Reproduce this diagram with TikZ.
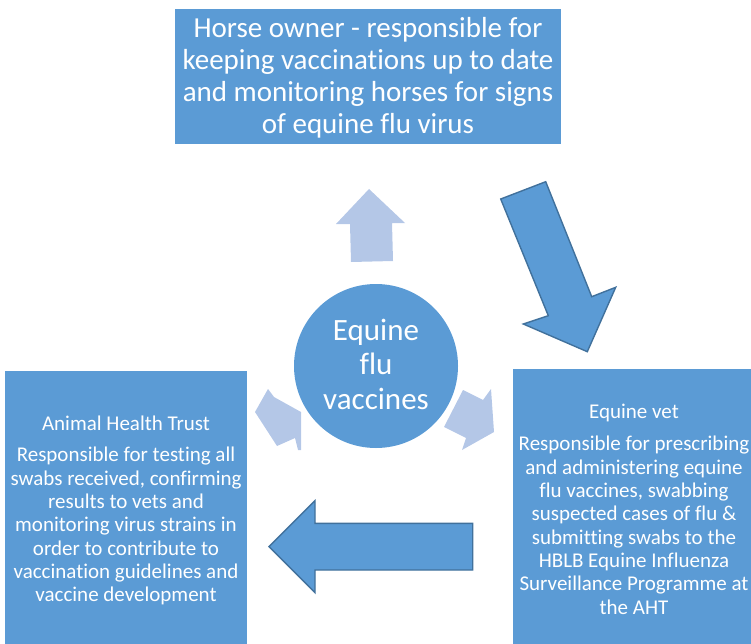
\documentclass[tikz,border=0pt]{standalone}
\usepackage{fontspec}
\setmainfont{Carlito}[Ligatures=CommonOff]
\definecolor{mainblue}{HTML}{5B9BD5}
\definecolor{edgeblue}{HTML}{41719C}
\definecolor{lightblue}{HTML}{B4C7E7}
\newcommand{\topst}[1]{\rule{0pt}{#1pt}}
\tikzset{
  box/.style={fill=mainblue, draw=none},
  bigarrow/.style={fill=mainblue, draw=edgeblue, line width=1.4pt, line join=miter},
  smallarrow/.style={fill=lightblue, draw=none},
  txt/.style={text=white, inner sep=0pt, align=center, anchor=north},
}
\begin{document}
\begin{tikzpicture}[x=1pt,y=-1pt]
\useasboundingbox (0,0) rectangle (751,644);
\clip (0,0) rectangle (751,644);
% boxes
\path[box] (175,9) rectangle (561,144);
\path[box] (5,371) rectangle (247,650);
\path[box] (513,369) rectangle (755,650);
\node[txt, font=\fontsize{29}{32}\selectfont] (owner) at (368,12.3)
  {\topst{25}Horse owner - responsible for\\keeping vaccinations up to date\\and monitoring horses for signs\\of equine flu virus};
\node[txt, font=\fontsize{21}{23.3}\selectfont] (aht) at (126,405)
  {\topst{25}Animal Health Trust\\[8.4pt]Responsible for testing all\\swabs received, confirming\\results to vets and\\monitoring virus strains in\\order to contribute to\\vaccination guidelines and\\vaccine development};
\node[txt, font=\fontsize{21}{23.3}\selectfont] (vet) at (634,393)
  {\topst{25}Equine vet\\[9.4pt]Responsible for prescribing\\and administering equine\\flu vaccines, swabbing\\suspected cases of flu \&\\submitting swabs to the\\HBLB Equine Influenza\\Surveillance Programme at\\the AHT};
% small light arrows
\path[smallarrow] (369,189) -- (405,223) -- (392,223) -- (393,261) -- (351,262) -- (350,224) -- (336,224) -- cycle;
\path[smallarrow] (463,390) -- (483,400) -- (491,389) -- (494,432) -- (462,450) -- (466,438) -- (444,427) -- cycle;
\path[smallarrow] (255,412) -- (268,389) -- (274,397) -- (301,412) -- (301,450) -- (298,450) -- (295,438) -- (277,446) -- cycle;
% circle
\node[circle, fill=mainblue, minimum size=164pt, inner sep=0pt] (vac) at (376,366) {};
\node[txt, font=\fontsize{31}{34.7}\selectfont] (vactext) at (376,312)
  {\topst{28}Equine\\flu\\vaccines};
% big arrows
\path[bigarrow] (500.7,199) -- (545.7,181.7) -- (591.7,296.7) -- (615.7,287.3) -- (587.3,351.7) -- (523.3,324) -- (548.3,315.7) -- cycle;
\path[bigarrow] (269,546.7) -- (315,500.7) -- (315,523.3) -- (472.7,523.3) -- (472.7,570) -- (315,570) -- (315,592.7) -- cycle;
\end{tikzpicture}
\end{document}
